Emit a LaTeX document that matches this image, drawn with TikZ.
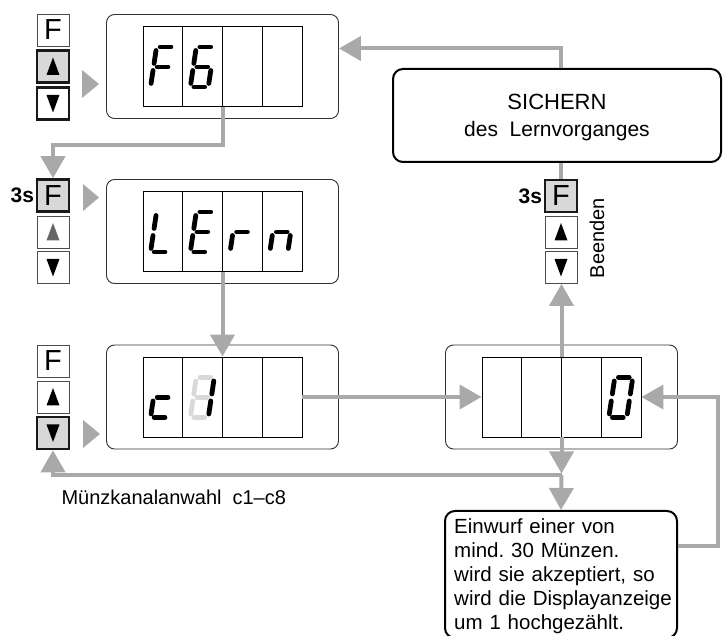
\documentclass[tikz,border=0pt]{standalone}
\usepackage{fontspec}
\setmainfont{Liberation Sans}
\usetikzlibrary{arrows.meta,calc}
\definecolor{arrgray}{HTML}{A9A9A9}
\definecolor{btngray}{HTML}{D8D8D8}
\def\sgF{A/B,F/A,F/C,E/F}
\def\sgSix{A/B,F/A,F/C,E/F,E/D,C/D}
\def\sgL{F/A,E/F,E/D}
\def\sgE{A/B,F/A,F/C,E/F,E/D}
\def\sgR{E/F,F/C}
\def\sgN{E/F,F/C,C/D}
\def\sgC{F/C,E/F,E/D}
\def\sgEight{A/B,B/C,C/D,E/D,E/F,F/A,F/C}
\def\sgOne{B/C,C/D}
\def\sgZero{A/B,B/C,C/D,E/D,E/F,F/A}
\newcommand\uptri[2]{\fill[#2] ([shift={(-6.5,8.5)}]#1.center) -- ([shift={(6.5,8.5)}]#1.center) -- ([shift={(0,-9)}]#1.center) -- cycle;}
\newcommand\dntri[2]{\fill[#2] ([shift={(-6.5,-8.5)}]#1.center) -- ([shift={(6.5,-8.5)}]#1.center) -- ([shift={(0,9)}]#1.center) -- cycle;}
\newcommand\dispunit[3]{%
  \node[dispout] (d#1) at (#2,#3) {};
  \node[dispin] (f#1) at (#2,#3) {};
  \foreach \dx in {-39.75,0,39.75} \draw[cellline] ([xshift=\dx pt]f#1.north) -- ([xshift=\dx pt]f#1.south);
}
\begin{document}
\frenchspacing
\begin{tikzpicture}[x=1pt,y=-1pt,
  dispout/.style={draw=black!80, line width=0.9pt, rounded corners=8pt, minimum width=232pt, minimum height=104pt, inner sep=0pt},
  dispin/.style={draw=black, line width=0.9pt, minimum width=159pt, minimum height=80pt, inner sep=0pt},
  cellline/.style={draw=black, line width=0.9pt},
  segline/.style={line width=4.8pt, line cap=round, shorten >=3.6pt, shorten <=3.6pt},
  digit/.pic={
    \coordinate (sgA) at (6,-40);
    \coordinate (sgB) at (24,-40);
    \coordinate (sgC) at (21,-20);
    \coordinate (sgD) at (18,0);
    \coordinate (sgE) at (0,0);
    \coordinate (sgF) at (3,-20);
    \foreach \p/\q in #1 {\draw[segline] (sg\p) -- (sg\q);}
  },
  btn/.style={draw=black!70, line width=0.8pt, minimum size=32pt, inner sep=0pt, fill=white, font=\fontsize{29}{29}\selectfont},
  btnact/.style={btn, draw=black!90, line width=2.6pt},
  btngrey/.style={btnact, fill=btngray},
  conn/.style={draw=arrgray, line width=4pt},
  tip/.style={-{Triangle[width=24pt,length=22pt]}},
  pointer/.style={fill=arrgray},
  bigbox/.style={draw=black, line width=2pt, rounded corners=10pt, inner sep=0pt}
]
\useasboundingbox (0,0) rectangle (724,636);
\fill[white] (0,0) rectangle (724,636);

% displays
\dispunit{1}{222.5}{66.5}
\dispunit{2}{222.5}{231.5}
\dispunit{3}{222.5}{397}
\dispunit{4}{561.5}{397}

% digits
\pic at ([shift={(8,-20)}]f1.south west) {digit=\sgF};
\pic at ([shift={(47.75,-20)}]f1.south west) {digit=\sgSix};
\pic at ([shift={(8,-20)}]f2.south west) {digit=\sgL};
\pic at ([shift={(47.75,-20)}]f2.south west) {digit=\sgE};
\pic at ([shift={(87.5,-20)}]f2.south west) {digit=\sgR};
\pic at ([shift={(127.25,-20)}]f2.south west) {digit=\sgN};
\pic at ([shift={(8,-20)}]f3.south west) {digit=\sgC};
\pic[color=black!15] at ([shift={(47.75,-20)}]f3.south west) {digit=\sgEight};
\pic at ([shift={(47.75,-20)}]f3.south west) {digit=\sgOne};
\pic at ([shift={(127.25,-20)}]f4.south west) {digit=\sgZero};

% buttons
\node[btn] (F1) at (53,30) {F};
\node[btngrey] (U1) at (53,66.5) {};
\node[btnact] (D1) at (53,103.5) {};
\node[btngrey] (F2) at (53,195.5) {F};
\node[btn] (U2) at (53,232) {};
\node[btn] (D2) at (53,267.5) {};
\node[btn] (F3) at (53,361) {F};
\node[btn] (U3) at (53,397) {};
\node[btngrey] (D3) at (53,433) {};
\node[btngrey] (FR) at (561,196) {F};
\node[btn] (UR) at (561,232) {};
\node[btn] (DR) at (561,267.5) {};
\uptri{U1}{black}
\dntri{D1}{black}
\uptri{U2}{black!60}
\dntri{D2}{black}
\uptri{U3}{black}
\dntri{D3}{black}
\uptri{UR}{black}
\dntri{DR}{black}

% pointer triangles
\fill[pointer] (82,70) -- (99,84) -- (82,98) -- cycle;
\fill[pointer] (83,184) -- (99,197.5) -- (83,211) -- cycle;
\fill[pointer] (83,420) -- (100,434) -- (83,448) -- cycle;

% boxes
\node[bigbox, minimum width=328pt, minimum height=93pt] (SI) at (557,115.5) {};
\node[align=center, inner sep=0pt, font=\fontsize{21}{27}\selectfont] (SItext) at (557,118) {{\fontsize{22}{27}\selectfont SICHERN}\\des\hspace{0.55em}Lernvorganges};
\node[bigbox, anchor=north, minimum width=232pt, minimum height=127pt] (EW) at (561,510) {};
\node[anchor=north west, inner sep=0pt, text width=213pt, align=left, font=\fontsize{20.5}{24}\selectfont] (EWtext) at (454,518) {\makebox[174pt][s]{Einwurf einer von}\\\makebox[174pt][s]{mind. 30 Münzen.}\\\makebox[213pt][s]{wird sie akzeptiert, so}\\\makebox[213pt][s]{wird die Displayanzeige}\\um 1 hochgezählt.};

% texts
\node[anchor=east, font=\bfseries\fontsize{21}{21}\selectfont, inner sep=1.5pt] (s3a) at (F2.west) {3s};
\node[anchor=east, font=\bfseries\fontsize{21}{21}\selectfont, inner sep=1.5pt] (s3b) at (FR.west) {3s};
\node[rotate=90, font=\fontsize{20}{20}\selectfont] (been) at (597,238) {Beenden};
\node[anchor=west, font=\fontsize{20}{24}\selectfont] (muenz) at (58,497) {Münzkanalanwahl\hspace{0.55em}c1--c8};

% connectors
\path (d1.east) ++(0,-18) coordinate (d1in);
\path (f4.south) ++(0,38) coordinate (J);
\path (EW.east) ++(0,-28.5) coordinate (ewout);
\draw[conn,tip] (f1.south) -- ++(0,38) -| (F2.north);
\draw[conn,tip] (f2.south) -- (f3.north);
\draw[conn,tip] (f3.east) -- (f4.west);
\draw[conn,tip] (f4.north) -- (f4.north |- DR.south);
\draw[conn] (FR.north) -- (FR.north |- SI.south);
\draw[conn,tip] (SI.north -| FR.north) |- (d1in);
\draw[conn,tip,shorten >=2pt] (f4.south) -- (J);
\draw[conn,tip] (J) -| (D3.south);
\draw[conn,tip] (J) -- (EW.north);
\draw[conn,tip] (ewout) -- ++(40,0) |- (f4.east);
\end{tikzpicture}
\end{document}
